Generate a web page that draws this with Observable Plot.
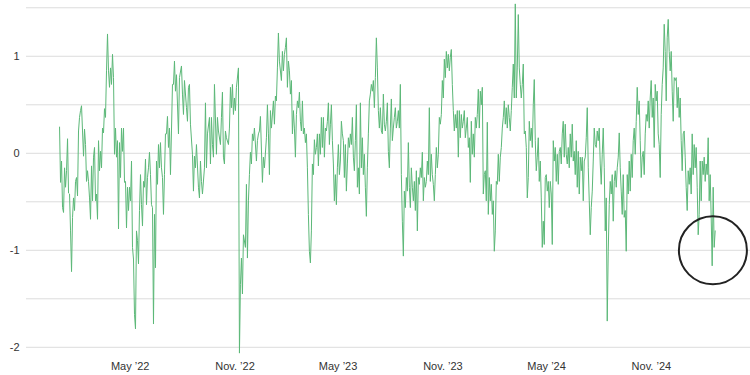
<!DOCTYPE html>
<html>
<head>
<meta charset="utf-8">
<script src="https://cdn.jsdelivr.net/npm/d3@7"></script>
<script src="https://cdn.jsdelivr.net/npm/@observablehq/plot@0.6"></script>
<style>
  html, body { margin: 0; padding: 0; background: #ffffff; }
</style>
</head>
<body>
<script>
// Series: evenly spaced observations between the first and last date
const firstDate = "2021-12-28";
const lastDate = "2025-02-21";
const values = [
  0.27, -0.30, -0.08, -0.56, -0.61, -0.15, -0.35, -0.18, 0.15, -0.41,
  -0.42, -0.80, -1.22, -0.66, -0.46, -0.59, -0.29, -0.25, -0.44, 0.23,
  0.37, 0.44, 0.49, 0.23, -0.03, 0.25, 0.09, -0.29, -0.18, -0.29,
  -0.46, -0.68, -0.13, -0.49, -0.04, 0.06, -0.49, -0.42, -0.68, 0.13,
  -0.18, 0.02, -0.15, 0.26, 0.21, 0.46, 0.37, 0.85, 1.23, 0.85,
  0.68, 0.88, 0.71, 1.02, 0.78, -0.01, 0.26, -0.04, 0.13, -0.78,
  0.11, -0.25, 0.26, 0.02, 0.26, -0.30, -0.29, -0.77, -0.35, -0.59,
  -0.35, -0.49, -0.08, -0.97, -1.09, -1.66, -1.81, -0.80, -0.90, -1.14,
  -0.59, -0.22, -0.53, -0.75, -0.29, -0.35, -0.06, -0.53, -0.25, -0.15,
  0.01, -0.22, -0.53, -0.56, -1.76, -0.63, -1.18, -0.08, -0.32, 0.09,
  -0.15, 0.11, -0.15, -0.25, -0.63, -0.22, 0.20, 0.20, 0.38, 0.06,
  0.26, -0.22, 0.23, 0.71, 0.71, 0.95, 0.64, 0.81, null, 0.20,
  0.78, null, 0.90, 0.61, 0.40, 0.75, null, 0.47, 0.33, 0.68,
  0.71, 0.30, null, -0.01, -0.39, -0.03, -0.15, 0.09, null, -0.35,
  -0.46, -0.08, -0.29, -0.42, null, -0.15, 0.52, -0.15, 0.20, null,
  0.37, -0.11, 0.37, 0.09, -0.04, 0.71, null, -0.01, 0.37, 0.23,
  null, 0.09, 0.37, 0.63, -0.04, -0.11, 0.23, 0.16, null, 0.09,
  0.26, 0.68, 0.47, 0.71, 0.40, 0.57, 0.44, 0.68, null, 0.88,
  -2.06, -1.35, -1.08, -1.45, -0.84, null, -0.97, -0.32, -1.08, -0.49,
  -0.22, 0.01, -0.11, 0.20, 0.13, 0.26, null, -0.08, 0.13, 0.20,
  0.23, 0.38, null, -0.30, -0.04, -0.15, null, 0.16, 0.50, 0.20,
  -0.22, 0.44, 0.26, null, 0.54, 0.30, 0.59, 0.54, 0.88, 1.24,
  0.95, null, 0.75, 1.05, 0.85, 1.02, 1.09, 1.19, 0.68, 0.95,
  0.85, 0.61, 0.75, 0.20, 0.44, 0.26, -0.04, 0.40, 0.54, 0.47,
  0.63, 0.33, 0.23, 0.54, 0.20, 0.26, 0.11, 0.20, -0.15, -0.63,
  -1.01, -1.13, -0.80, -0.11, -0.22, 0.14, -0.01, 0.06, 0.20, -0.13,
  0.20, -0.01, 0.37, 0.06, 0.37, -0.04, 0.26, 0.23, 0.33, 0.52,
  0.09, 0.30, 0.50, 0.13, -0.11, -0.49, -0.22, -0.53, -0.15, 0.09,
  -0.22, -0.08, 0.33, 0.20, 0.13, -0.25, 0.09, -0.39, -0.11, 0.16,
  0.06, 0.20, 0.09, 0.37, -0.04, -0.18, 0.13, 0.50, -0.35, -0.15,
  -0.42, 0.52, -0.15, 0.16, -0.22, -0.01, -0.35, -0.65, -0.15, 0.20,
  0.54, 0.61, 0.71, 0.64, 0.75, 0.47, 0.78, 1.19, 0.88, 0.44,
  0.26, 0.47, 0.23, 0.20, 0.61, 0.30, 0.23, 0.33, 0.52, 0.02,
  -0.15, 0.26, 0.56, 0.13, 0.26, 0.37, 0.47, 0.26, 0.33, 0.44,
  0.26, 0.71, -0.22, -0.70, -1.06, -0.39, -0.56, -0.25, -0.39, 0.11,
  -0.35, -0.56, -0.15, -0.35, -0.49, -0.29, -0.59, -0.18, -0.80, -0.25,
  -0.32, -0.15, -0.25, 0.01, -0.49, -0.25, -0.35, -0.29, -0.08, -0.22,
  0.47, -0.29, -0.01, -0.22, -0.32, -0.49, -0.22, 0.06, -0.15, -0.01,
  0.37, 0.30, 0.40, 0.75, 0.57, 0.97, 0.78, 1.05, 0.88, 1.02,
  0.85, 0.99, 1.07, 0.71, 0.44, 0.23, 0.40, 0.26, 0.44, -0.04,
  0.44, 0.16, 0.40, 0.26, 0.33, 0.44, 0.16, 0.26, 0.37, 0.06,
  0.16, -0.30, 0.33, -0.01, 0.20, -0.04, 0.37, 0.26, 0.40, 0.66,
  0.26, 0.64, 0.50, 0.68, -0.42, -0.22, -0.18, -0.49, 0.32, -0.63,
  -0.25, -0.49, -0.32, -0.63, -0.49, -1.01, -0.80, -0.29, -0.32, -0.01,
  -0.29, -0.04, 0.06, 0.26, 0.37, 0.54, 0.30, 0.47, 0.26, 0.50,
  0.37, 0.23, 0.44, 0.68, 0.92, 0.57, 1.54, 0.57, 0.88, 1.43,
  0.88, 0.71, 0.57, 0.71, 0.92, 0.20, 0.23, 0.06, -0.46, -0.25,
  0.33, 0.13, 0.26, 0.06, 0.50, 0.76, 0.13, -0.18, -0.04, 0.16,
  -0.29, -0.08, -0.46, -0.97, -0.70, -0.94, -0.25, -0.22, -0.39, -0.29,
  -0.56, -0.29, -0.42, -0.94, 0.13, -0.08, 0.06, -0.29, -0.01, -0.32,
  0.02, 0.06, -0.11, 0.20, 0.33, -0.04, 0.30, -0.01, -0.11, 0.06,
  -0.15, 0.20, -0.04, 0.30, -0.08, 0.02, -0.22, 0.13, -0.35, 0.02,
  -0.42, -0.04, -0.18, -0.04, -0.49, -0.08, -0.04, 0.16, 0.47, -0.15,
  -0.49, -0.84, -0.56, -0.39, -0.08, 0.26, 0.09, 0.06, 0.23, 0.13,
  0.26, -0.11, -0.32, -0.01, 0.26, -0.15, -0.80, -0.46, -1.73, -1.01,
  -0.53, -0.29, -0.42, -0.22, -0.70, -0.29, -0.18, -0.35, -0.15, -0.04,
  0.21, -0.15, -0.39, -0.63, -0.22, -0.66, -0.59, -1.01, -0.22, -0.42,
  -0.08, -0.39, -0.01, -0.25, 0.13, 0.26, -0.01, 0.33, 0.68, 0.40,
  0.54, 0.13, -0.25, -0.04, 0.02, -0.22, 0.20, 0.40, 0.33, 0.54,
  0.26, 0.57, 0.75, 0.37, 0.57, 0.06, 0.71, 0.54, 0.64, 0.20,
  0.09, -0.25, 0.40, 0.71, 0.88, 1.33, 1.05, 0.54, 1.19, 1.38,
  1.05, 0.85, 1.05, 0.64, 0.33, 0.78, 0.75, 0.78, 0.47, 0.68,
  0.37, 0.57, 0.13, -0.18, 0.20, 0.23, -0.04, -0.35, -0.59, -0.18,
  -0.32, -0.15, -0.42, 0.20, -0.22, 0.09, -0.15, 0.06, -0.35, -0.84,
  -0.63, -0.08, -0.49, -0.08, -0.22, -0.04, -0.29, -0.11, -0.22, 0.16,
  -0.49, -0.22, -0.66, -1.16, -0.35, -0.97, -0.80
];

// Axes
const xDomain = ["2021-10-31", "2025-04-24"];
const xTickDates = ["2022-05-01", "2022-11-01", "2023-05-01", "2023-11-01", "2024-05-01", "2024-11-01"];
const xTickLabels = ["May \u201922", "Nov. \u201922", "May \u201923", "Nov. \u201923", "May \u201924", "Nov. \u201924"];
const yDomain = [-2.1, 1.575];
const yGridValues = [-2, -1.5, -1, -0.5, 0, 0.5, 1, 1.5];
const yTickValues = [-2, -1, 0, 1];

// Annotation circle
const circleDates = ["2025-02-17"];
const circleValues = [-1.0];

const t0 = new Date(firstDate + "T00:00:00Z").getTime();
const t1 = new Date(lastDate + "T00:00:00Z").getTime();
const n = values.length;
const series = values
  .map((v, i) => ({ date: new Date(t0 + (t1 - t0) * i / (n - 1)), value: v }))
  .filter(d => d.value != null);

const tickMap = new Map(xTickDates.map((d, i) => [new Date(d + "T00:00:00Z").getTime(), xTickLabels[i]]));
const circle = circleDates.map((d, i) => ({ date: new Date(d + "T00:00:00Z"), value: circleValues[i] }));

const chart = Plot.plot({
  width: 750,
  height: 375,
  marginLeft: 26,
  marginRight: 0,
  marginTop: 0,
  marginBottom: 18.5,
  style: { fontFamily: "'Liberation Sans', Arial, Helvetica, sans-serif", fontSize: "11px", color: "#333", background: "#ffffff" },
  x: { type: "utc", domain: xDomain.map(d => new Date(d + "T00:00:00Z")) },
  y: { domain: yDomain },
  marks: [
    Plot.ruleY(yGridValues, { stroke: "#dcdcdc", strokeWidth: 1 }),
    Plot.axisY({ ticks: yTickValues, tickSize: 0, tickPadding: 7, label: null, tickFormat: d => String(d) }),
    Plot.axisX({ ticks: xTickDates.map(d => new Date(d + "T00:00:00Z")), tickSize: 0, tickPadding: 5, label: null, tickFormat: d => tickMap.get(+d) }),
    Plot.line(series, { x: "date", y: "value", stroke: "#5cb878", strokeWidth: 1 }),
    Plot.dot(circle, { x: "date", y: "value", r: 34, stroke: "#222222", strokeWidth: 2, fill: "none" })
  ]
});
document.body.appendChild(chart);
</script>
</body>
</html>
